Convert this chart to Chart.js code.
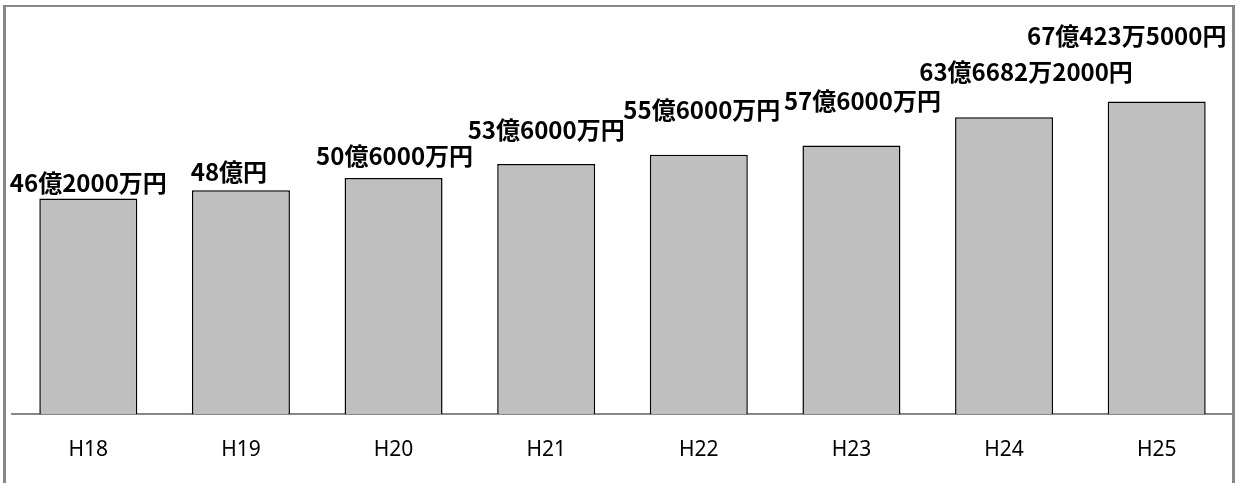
<!DOCTYPE html>
<html lang="ja">
<head>
    <meta charset="UTF-8">
    <title>H18-H25</title>
    <script src="https://cdn.jsdelivr.net/npm/chart.js"></script>
    <style>
        body {
            margin: 0;
            background: #fff;
        }
        .frame {
            position: absolute;
            left: 3px;
            top: 5px;
            width: 1226px;
            height: 480px;
            border: 3px solid #878787;
            border-top-width: 2px;
        }
        .chart-box {
            position: absolute;
            left: 0;
            top: 0;
            width: 1241px;
            height: 483px;
        }
    </style>
</head>
<body>

<div class="frame"></div>
<div class="chart-box">
    <canvas id="budgetChart" width="1241" height="483"></canvas>
</div>

<script>
// 年度と金額（億円）
const years = ['H18', 'H19', 'H20', 'H21', 'H22', 'H23', 'H24', 'H25'];
const amounts = [46.2, 48, 50.6, 53.6, 55.6, 57.6, 63.6682, 67.04235];
const amountLabels = [
    '46億2000万円', '48億円', '50億6000万円', '53億6000万円',
    '55億6000万円', '57億6000万円', '63億6682万2000円', '67億423万5000円'
];

// ラベルの位置ずれ（手で置かれた位置に合わせる）
const labelShiftX = [0, -12, 1, 0, 3, 11, 22, -30];
const labelShiftY = [16, 18, 22, 34, 45, 45, 45, 66];

const barLabels = {
    id: 'barLabels',
    afterDatasetsDraw(chart) {
        const ctx = chart.ctx;
        const bars = chart.getDatasetMeta(0).data;
        ctx.save();
        ctx.fillStyle = '#000';
        ctx.font = 'bold 24px "Noto Sans CJK JP"';
        ctx.textAlign = 'center';
        ctx.textBaseline = 'middle';
        bars.forEach((bar, i) => {
            ctx.fillText(amountLabels[i], bar.x + labelShiftX[i], bar.y - labelShiftY[i]);
        });
        ctx.restore();
    }
};

const ctx = document.getElementById('budgetChart').getContext('2d');
new Chart(ctx, {
    type: 'bar',
    data: {
        labels: years,
        datasets: [{
            data: amounts,
            backgroundColor: '#bfbfbf',
            borderColor: '#000',
            borderWidth: 1.5,
            barPercentage: 0.642,
            categoryPercentage: 1
        }]
    },
    options: {
        responsive: false,
        animation: false,
        layout: {
            padding: { left: 12, right: 8, top: 41, bottom: 0 }
        },
        plugins: {
            legend: { display: false },
            tooltip: { enabled: false }
        },
        scales: {
            y: {
                display: false,
                min: 0,
                max: 80
            },
            x: {
                grid: { display: false },
                border: { display: true, color: '#878787', width: 2 },
                ticks: {
                    color: '#000',
                    padding: 15,
                    font: { family: '"Noto Sans", sans-serif', size: 21 }
                },
                afterFit(scale) {
                    scale.height = 69;
                }
            }
        }
    },
    plugins: [barLabels]
});
</script>

</body>
</html>
